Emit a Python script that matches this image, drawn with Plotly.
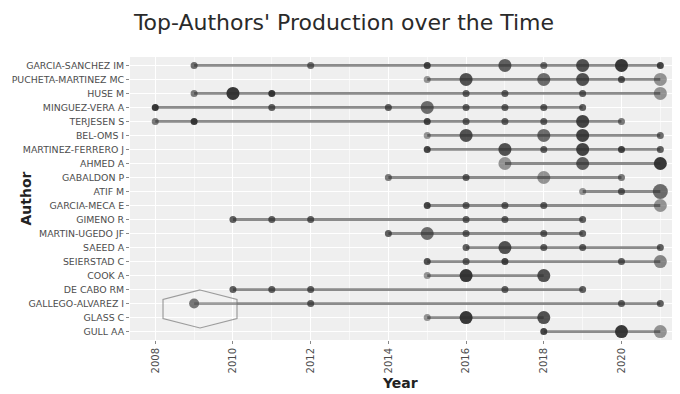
import plotly.graph_objects as go

authors = ["GARCIA-SANCHEZ IM", "PUCHETA-MARTINEZ MC", "HUSE M", "MINGUEZ-VERA A",
           "TERJESEN S", "BEL-OMS I", "MARTINEZ-FERRERO J", "AHMED A", "GABALDON P",
           "ATIF M", "GARCIA-MECA E", "GIMENO R", "MARTIN-UGEDO JF", "SAEED A",
           "SEIERSTAD C", "COOK A", "DE CABO RM", "GALLEGO-ALVAREZ I", "GLASS C", "GULL AA"]

# one record per author-year: author, year, number of articles, citations per year
rec_author = (
    ["GARCIA-SANCHEZ IM"] * 8 + ["PUCHETA-MARTINEZ MC"] * 6 + ["HUSE M"] * 7 +
    ["MINGUEZ-VERA A"] * 8 + ["TERJESEN S"] * 8 + ["BEL-OMS I"] * 5 +
    ["MARTINEZ-FERRERO J"] * 6 + ["AHMED A"] * 3 + ["GABALDON P"] * 4 +
    ["ATIF M"] * 3 + ["GARCIA-MECA E"] * 5 + ["GIMENO R"] * 6 +
    ["MARTIN-UGEDO JF"] * 5 + ["SAEED A"] * 5 + ["SEIERSTAD C"] * 5 +
    ["COOK A"] * 3 + ["DE CABO RM"] * 5 + ["GALLEGO-ALVAREZ I"] * 4 +
    ["GLASS C"] * 3 + ["GULL AA"] * 3
)
rec_year = [
    2009, 2012, 2015, 2017, 2018, 2019, 2020, 2021,
    2015, 2016, 2018, 2019, 2020, 2021,
    2009, 2010, 2011, 2016, 2017, 2019, 2021,
    2008, 2011, 2014, 2015, 2016, 2017, 2018, 2019,
    2008, 2009, 2015, 2016, 2017, 2018, 2019, 2020,
    2015, 2016, 2018, 2019, 2021,
    2015, 2017, 2018, 2019, 2020, 2021,
    2017, 2019, 2021,
    2014, 2016, 2018, 2020,
    2019, 2020, 2021,
    2015, 2016, 2017, 2018, 2021,
    2010, 2011, 2012, 2016, 2017, 2019,
    2014, 2015, 2016, 2018, 2019,
    2016, 2017, 2018, 2019, 2021,
    2015, 2016, 2017, 2020, 2021,
    2015, 2016, 2018,
    2010, 2011, 2012, 2017, 2019,
    2009, 2012, 2020, 2021,
    2015, 2016, 2018,
    2018, 2020, 2021,
]
rec_articles = [
    1, 1, 1, 3, 1, 3, 3, 1,
    1, 3, 3, 3, 1, 3,
    1, 3, 1, 1, 1, 1, 3,
    1, 1, 1, 3, 1, 1, 1, 1,
    1, 1, 1, 1, 1, 1, 3, 1,
    1, 3, 3, 3, 1,
    1, 3, 1, 3, 1, 1,
    3, 3, 3,
    1, 1, 3, 1,
    1, 1, 4,
    1, 1, 1, 1, 3,
    1, 1, 1, 1, 1, 1,
    1, 3, 1, 1, 1,
    1, 3, 1, 1, 1,
    1, 1, 1, 1, 3,
    1, 3, 3,
    1, 1, 1, 1, 1,
    2, 1, 1, 1,
    1, 3, 3,
    1, 3, 3,
]
rec_tcpy = [
    5, 5, 8, 6, 5, 7, 9, 8,
    2, 7, 5, 7, 7, 2,
    4, 9, 9, 6, 6, 6, 2,
    9, 6, 6, 5, 6, 6, 6, 6,
    4, 9, 8, 6, 6, 6, 8, 4,
    2, 7, 5, 8, 5,
    8, 7, 6, 8, 8, 6,
    2, 6, 9,
    4, 6, 2, 4,
    2, 6, 5,
    8, 6, 6, 6, 2,
    6, 6, 6, 6, 6, 6,
    6, 5, 6, 6, 6,
    6, 7, 6, 6, 6,
    7, 6, 8, 6, 3,
    2, 9, 7,
    6, 6, 6, 6, 6,
    6, 6, 6, 6,
    2, 9, 7,
    8, 9, 2,
]

x_ticks = [2008, 2010, 2012, 2014, 2016, 2018, 2020]

fig = go.Figure()

# timeline segments (first to last year per author)
for a in authors:
    ys = [y for aa, y in zip(rec_author, rec_year) if aa == a]
    fig.add_trace(go.Scatter(
        x=[min(ys), max(ys)], y=[a, a], mode="lines",
        line=dict(color="rgba(120,120,120,0.85)", width=2.8),
        hoverinfo="skip", showlegend=False))

size_map = {1: 7, 2: 10, 3: 13, 4: 15}
sizes = [size_map[n] for n in rec_articles]
tmax = max(rec_tcpy)
opac = [0.35 + 0.6 * t / tmax for t in rec_tcpy]

fig.add_trace(go.Scatter(
    x=rec_year, y=rec_author, mode="markers",
    marker=dict(size=sizes, color="rgb(45,45,45)", opacity=opac, line=dict(width=0)),
    showlegend=False))

y_label_font = dict(family="DejaVu Sans", size=9.4, color="#4d4d4d")
x_label_font = dict(family="DejaVu Sans", size=10, color="#4d4d4d")

# the page body adds an 8px offset; margins are set in figure pixels
L, R, T, B = 122, 16, 49, 62
W, H = 680, 394
pw = W - L - R
ph = H - T - B

fig.update_layout(
    width=W, height=H,
    margin=dict(l=L, r=R, t=T, b=B),
    paper_bgcolor="white",
    plot_bgcolor="#efefef",
    title=dict(text="Top-Authors' Production over the Time",
               x=336 / W, xref="container", xanchor="center",
               y=1 - 14 / H, yref="container", yanchor="middle",
               font=dict(family="DejaVu Sans", size=22, color="#2a2a2a")),
    xaxis=dict(range=[2007.35, 2021.3], tickvals=x_ticks, tickangle=-90,
               automargin=False,
               showgrid=True, gridcolor="white", gridwidth=1,
               minor=dict(dtick=1, tick0=2007, showgrid=True, gridcolor="#f8f8f8", gridwidth=0.6),
               ticks="outside", ticklen=3, tickcolor="#888888",
               tickfont=x_label_font, zeroline=False, showline=False),
    yaxis=dict(type="category", categoryorder="array", categoryarray=authors,
               range=[19.6, -0.6], automargin=False,
               showgrid=True, gridcolor="white", gridwidth=1,
               ticks="outside", ticklen=3, tickcolor="#888888",
               tickfont=y_label_font, zeroline=False, showline=False),
    annotations=[
        dict(text="<b>Author</b>", x=(17 - L) / pw, xref="paper", y=0.5, yref="paper",
             xanchor="center", yanchor="middle", textangle=-90, showarrow=False,
             font=dict(family="DejaVu Sans", size=14, color="#222222")),
        dict(text="<b>Year</b>", x=(392 - L) / pw, xref="paper", y=(H - B - 375) / ph, yref="paper",
             xanchor="center", yanchor="middle", showarrow=False,
             font=dict(family="DejaVu Sans", size=14, color="#222222")),
    ],
)

# bibliometrix watermark hexagon
cx, cy, hw, hh = 192, 301, 37, 19
pts = [(cx, cy - hh), (cx + hw, cy - hh / 2), (cx + hw, cy + hh / 2), (cx, cy + hh),
       (cx - hw, cy + hh / 2), (cx - hw, cy - hh / 2)]
path = "M " + " L ".join(f"{(px - L) / pw:.4f},{(H - B - py) / ph:.4f}" for px, py in pts) + " Z"
fig.add_shape(type="path", path=path, xref="paper", yref="paper",
              line=dict(color="rgba(120,120,120,0.7)", width=1.2),
              fillcolor="rgba(255,255,255,0.15)", layer="above")

fig.write_html("out.html")
